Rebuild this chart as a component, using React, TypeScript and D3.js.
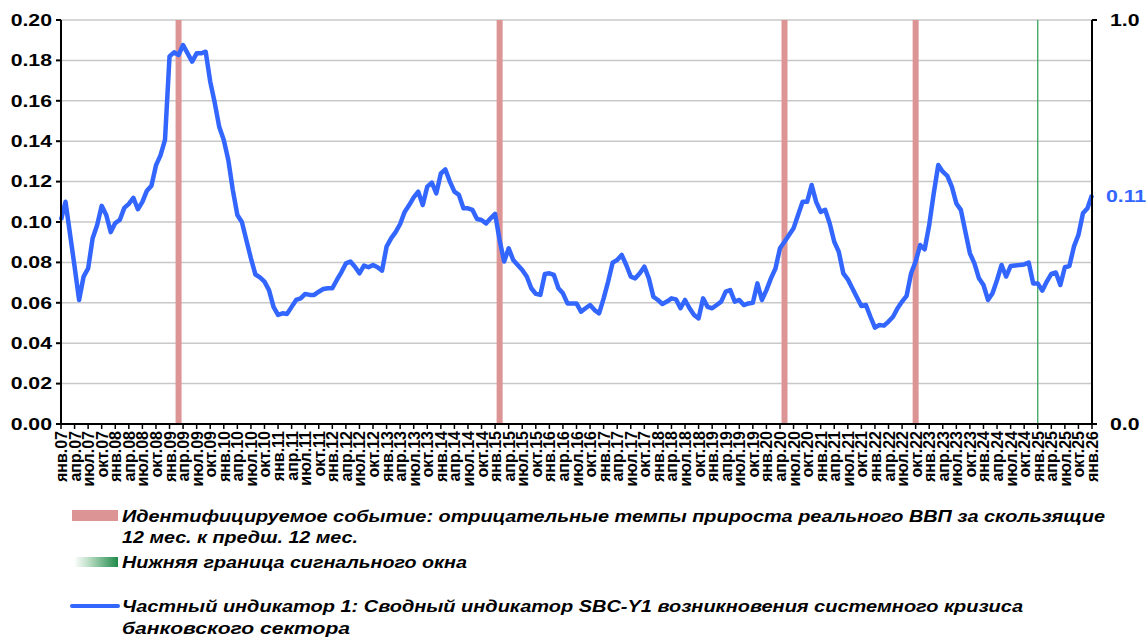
import React from "react";
import * as d3 from "d3";

// ---- data ----
const startYear = 2007;
const monthNames = ["янв.", "фев.", "мар.", "апр.", "май.", "июн.", "июл.", "авг.", "сен.", "окт.", "ноя.", "дек."];

const indicatorValues: number[] = [
  0.101, 0.110, 0.094, 0.078, 0.0614, 0.073, 0.077, 0.092, 0.0985, 0.108, 0.1035, 0.095,
  0.0995, 0.101, 0.107, 0.109, 0.112, 0.1063, 0.110, 0.1155, 0.118, 0.128, 0.133, 0.1406,
  0.182, 0.184, 0.1827, 0.1876, 0.1835, 0.1794, 0.1835, 0.1835, 0.1843, 0.1695, 0.159, 0.147,
  0.1406, 0.1307, 0.1158, 0.1035, 0.100, 0.091, 0.082, 0.074, 0.0726, 0.0705, 0.0663, 0.058,
  0.054, 0.0548, 0.0545, 0.058, 0.0614, 0.0622, 0.0644, 0.0639, 0.0639, 0.0655, 0.0668, 0.0672,
  0.0672, 0.0713, 0.0751, 0.0795, 0.0804, 0.0779, 0.0746, 0.0784, 0.0776, 0.0787, 0.0776, 0.0759,
  0.0878, 0.0919, 0.095, 0.099, 0.105, 0.1084, 0.1122, 0.115, 0.1084, 0.1175, 0.1195, 0.1142,
  0.124, 0.126, 0.12, 0.115, 0.1134, 0.1068, 0.1068, 0.106, 0.1015, 0.101, 0.0993, 0.1018,
  0.104, 0.091, 0.0804, 0.087, 0.0812, 0.0787, 0.0762, 0.073, 0.0672, 0.0644, 0.0639, 0.0743,
  0.0746, 0.0738, 0.0672, 0.0647, 0.0597, 0.0597, 0.0597, 0.0556, 0.0573, 0.0589, 0.0564, 0.0548,
  0.0622, 0.0705, 0.0799, 0.0812, 0.0837, 0.0787, 0.073, 0.0721, 0.0746, 0.0779, 0.0721, 0.063,
  0.0614, 0.0594, 0.0606, 0.0622, 0.0617, 0.0573, 0.0614, 0.0573, 0.054, 0.0523, 0.0622, 0.058,
  0.0573, 0.0589, 0.0606, 0.0655, 0.0663, 0.0606, 0.0614, 0.0589, 0.0597, 0.060, 0.0696, 0.0614,
  0.0663, 0.0721, 0.077, 0.087, 0.0902, 0.0936, 0.0969, 0.1035, 0.110, 0.110, 0.1183, 0.110,
  0.105, 0.106, 0.0993, 0.0902, 0.0853, 0.0746, 0.0716, 0.0672, 0.0627, 0.0584, 0.0589, 0.0531,
  0.0477, 0.049, 0.0487, 0.0507, 0.0531, 0.0573, 0.0606, 0.0634, 0.0746, 0.0804, 0.0886, 0.0865,
  0.0985, 0.1142, 0.1282, 0.1249, 0.1228, 0.1175, 0.1092, 0.106, 0.0952, 0.0845, 0.0795, 0.0721,
  0.0688, 0.0614, 0.0647, 0.0713, 0.0787, 0.073, 0.0782, 0.0785, 0.0787, 0.079, 0.0799, 0.0696,
  0.0696, 0.066, 0.0705, 0.0743, 0.075, 0.0688, 0.0776, 0.0782, 0.0878, 0.0936, 0.1043, 0.1068,
  0.1134,
];

const months: string[] = indicatorValues.map((_, i) => {
  const y = startYear + Math.floor(i / 12);
  return `${monthNames[i % 12]}${String(y % 100).padStart(2, "0")}`;
});

const eventMonths = ["мар.09", "фев.15", "май.20", "окт.22"]; // identified events (right axis = 1)
const signalMonths = ["янв.25"]; // lower bound of the signal window

const leftTicks = [0, 0.02, 0.04, 0.06, 0.08, 0.1, 0.12, 0.14, 0.16, 0.18, 0.2];
const rightTicks = [0, 1];
const lastValueLabel = "0.11";

const legendEvent1 = "Идентифицируемое событие: отрицательные темпы прироста реального ВВП за скользящие";
const legendEvent2 = "12 мес. к предш. 12 мес.";
const legendSignal = "Нижняя граница сигнального окна";
const legendLine1 = "Частный индикатор 1: Сводный индикатор SBC-Y1 возникновения системного кризиса";
const legendLine2 = "банковского сектора";

// ---- layout ----
const W = 1146;
const H = 641;
const left = 61;
const right = 1092;
const top = 20;
const bottom = 424;
const FONT = "'Liberation Sans', Arial, sans-serif";
const SX = 1.25;

export default function App() {
  const x = d3.scalePoint<string>().domain(months).range([left, right]);
  const y = d3.scaleLinear().domain([0, 0.2]).range([bottom, top]);
  const yR = d3.scaleLinear().domain([0, 1]).range([bottom, top]);

  const line = d3
    .line<number>()
    .x((_, i) => x(months[i]) as number)
    .y((d) => y(d));

  const labelMonths = months.filter((_, i) => i % 3 === 0);
  const lastX = x(months[months.length - 1]) as number;
  const lastY = y(indicatorValues[indicatorValues.length - 1]);

  return (
    <svg
      width={W}
      height={H}
      style={{ position: "absolute", left: 0, top: 0, display: "block", background: "#fff" }}
      fontFamily={FONT}
    >
      <defs>
        <linearGradient id="greenGrad" x1="0" x2="1" y1="0" y2="0">
          <stop offset="0" stopColor="#ffffff" />
          <stop offset="0.35" stopColor="#b8dcc2" />
          <stop offset="1" stopColor="#1f8a4a" />
        </linearGradient>
      </defs>
      {/* gridlines */}
      {leftTicks.slice(1).map((t) => (
        <line key={t} x1={left} x2={right} y1={y(t)} y2={y(t)} stroke="#c8c8c8" strokeWidth={1.5} />
      ))}
      {/* event bars */}
      {eventMonths.map((m) => (
        <rect
          key={m}
          x={(x(m) as number) - 3}
          width={6}
          y={yR(1)}
          height={yR(0) - yR(1)}
          fill="#dc9594"
        />
      ))}
      {signalMonths.map((m) => (
        <line
          key={m}
          x1={x(m) as number}
          x2={x(m) as number}
          y1={yR(1)}
          y2={yR(0)}
          stroke="#3aa45e"
          strokeWidth={1.3}
        />
      ))}
      {/* indicator line */}
      <path d={line(indicatorValues) || ""} fill="none" stroke="#3366ff" strokeWidth={4.5} strokeLinejoin="round" />

      {/* left axis */}
      <line x1={left} x2={left} y1={top} y2={bottom} stroke="#000" strokeWidth={2} />
      {leftTicks.map((t) => (
        <g key={t}>
          <line x1={left - 5} x2={left} y1={y(t)} y2={y(t)} stroke="#000" strokeWidth={2} />
          <text
            transform={`translate(${left - 9},${y(t)}) scale(${SX},1)`}
            textAnchor="end"
            dominantBaseline="central"
            fontSize={17}
            fontWeight="bold"
          >
            {t.toFixed(2)}
          </text>
        </g>
      ))}
      {/* right axis */}
      <line x1={right} x2={right} y1={top} y2={bottom} stroke="#000" strokeWidth={2} />
      {rightTicks.map((t) => (
        <g key={t}>
          <line x1={right} x2={right + 5} y1={yR(t)} y2={yR(t)} stroke="#000" strokeWidth={2} />
          <text
            transform={`translate(${right + 18},${yR(t)}) scale(${SX},1)`}
            textAnchor="start"
            dominantBaseline="central"
            fontSize={17}
            fontWeight="bold"
          >
            {t.toFixed(1)}
          </text>
        </g>
      ))}
      <text
        transform={`translate(${lastX + 14},${lastY + 1}) scale(${SX},1)`}
        textAnchor="start"
        dominantBaseline="central"
        fontSize={17}
        fontWeight="bold"
        fill="#3366ff"
      >
        {lastValueLabel}
      </text>

      {/* x axis */}
      <line x1={left} x2={right} y1={bottom} y2={bottom} stroke="#000" strokeWidth={2} />
      {labelMonths.map((m) => {
        const px = x(m) as number;
        return (
          <g key={m}>
            <line x1={px} x2={px} y1={bottom} y2={bottom + 5} stroke="#000" strokeWidth={1.5} />
            <text
              transform={`translate(${px + 0.5},${bottom + 7}) rotate(-90)`}
              textAnchor="end"
              dominantBaseline="central"
              fontSize={16}
              fontWeight="bold"
            >
              {m}
            </text>
          </g>
        );
      })}

      {/* legend */}
      <rect x={72} y={510} width={46} height={11} fill="#dc9594" />
      <text x={122} y={522} fontSize={16} fontWeight="bold" fontStyle="italic" textLength={983} lengthAdjust="spacingAndGlyphs">
        {legendEvent1}
      </text>
      <text x={122} y={543} fontSize={16} fontWeight="bold" fontStyle="italic" textLength={236} lengthAdjust="spacingAndGlyphs">
        {legendEvent2}
      </text>
      <rect x={74} y={557} width={44} height={10} fill="url(#greenGrad)" />
      <text x={122} y={568} fontSize={16} fontWeight="bold" fontStyle="italic" textLength={345} lengthAdjust="spacingAndGlyphs">
        {legendSignal}
      </text>
      <line x1={72} x2={118} y1={606} y2={606} stroke="#3366ff" strokeWidth={4} strokeLinecap="round" />
      <text x={122} y={612} fontSize={16} fontWeight="bold" fontStyle="italic" textLength={901} lengthAdjust="spacingAndGlyphs">
        {legendLine1}
      </text>
      <text x={122} y={634} fontSize={16} fontWeight="bold" fontStyle="italic" textLength={228} lengthAdjust="spacingAndGlyphs">
        {legendLine2}
      </text>
    </svg>
  );
}
